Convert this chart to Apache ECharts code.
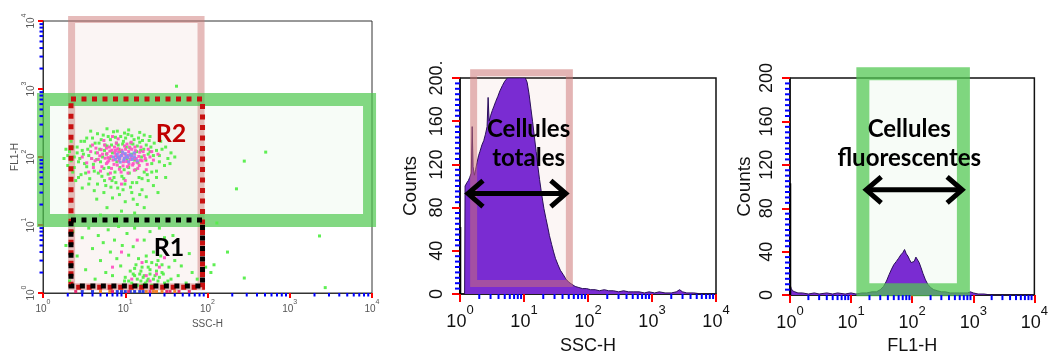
<!DOCTYPE html>
<html><head><meta charset="utf-8">
<script src="https://cdn.jsdelivr.net/npm/echarts@6/dist/echarts.min.js"></script>
<style>html,body{margin:0;padding:0;background:#fff}#c{width:1051px;height:360px}</style>
</head><body><div id="c"></div>
<script>
// ---------------- DATA ----------------
const decades = [1, 10, 100, 1000, 10000];
const countTicks = [0, 40, 80, 120, 160, 200];
const logMinorTicks = [2,3,4,5,6,7,8,9, 20,30,40,50,60,70,80,90, 200,300,400,500,600,700,800,900, 2000,3000,4000,5000,6000,7000,8000,9000];
const countMinorTicks = [5,10,15,20,25,30,35, 45,50,55,60,65,70,75, 85,90,95,100,105,110,115, 125,130,135,140,145,150,155, 165,170,175,180,185,190,195];

const dotsGreen = [
[1.8,95],[2.0,75],[2.1,120],[2.3,60],[2.4,100],[2.6,140],[2.7,85],[2.9,55],[3.1,110],[3.2,170],[3.4,72],[3.5,130],[3.7,48],[3.9,95],[4.0,190],[4.2,62],[4.4,115],[4.6,40],[4.8,160],[5.0,85],[5.2,52],[5.4,210],[5.6,125],[5.8,38],[6.0,145],[6.3,70],[6.6,180],[6.9,45],[7.2,235],[7.5,60],[7.8,160],[8.1,35],[8.4,130],[8.8,200],[9.1,52],[9.5,170],[9.9,40],[10.3,140],[10.8,215],[11.2,58],[11.7,160],[12.2,42],[12.8,180],[13.4,65],[14,145],[14.7,50],[15.4,125],[16.2,175],[17,60],[18,150],[19,45],[20,120],[21,80],[22.5,160],[24,62],[26,105],[28,130],[30,75],[33,95],[36,115],[5.5,30],[8.5,28],[12,30],[16,33],[3.0,35],[7.0,25],[10,22],[14,20],[4.5,24],[6,18],[9,16],[18,26],[22,38],[25,30],[11,250],[6,260],[15,230],[3.8,240],[2.2,170],[2.5,45],[1.9,130],[20,200],[27,170],[31,50],[13,15],[5,14],[8,13],[17,18],
[2.0,105],[2.2,88],[2.4,70],[2.6,115],[2.8,95],[3.0,125],[3.2,80],[3.3,58],[3.6,105],[3.8,145],[4.1,78],[4.3,160],[4.5,92],[4.7,58],[4.9,130],[5.1,180],[5.3,100],[5.5,68],[5.7,150],[5.9,110],[6.2,56],[6.5,95],[6.8,150],[7.0,115],[7.3,50],[7.6,195],[7.9,85],[8.2,150],[8.6,70],[8.9,120],[9.3,155],[9.7,65],[10.1,190],[10.5,95],[11,70],[11.4,135],[11.9,110],[12.4,155],[13,90],[13.7,120],[14.3,82],[15,165],[15.8,100],[16.8,130],[17.8,90],[19,110],[20.5,140],[22,105],[24,125],[26,85],[2.3,140],[3.4,190],[4.6,220],[6.2,200],[8.0,240],[9.8,225],[12,205],[14.5,190],[17,210],[19.5,175],[3.6,40],[5.6,45],[7.7,42],[9.6,48],[11.6,36],[13.8,42],[16,48],[18.5,55],[21,60],[24,50],[4.2,32],[6.7,36],[9.4,33],[12.5,24],[15,28],[2.7,50],[2.9,170],[31,140],[35,80],[40,100],
[2.3,8],[2.6,3.5],[3.0,6.5],[3.3,2.2],[3.6,9],[4.0,4.5],[4.3,1.6],[4.7,7],[5.0,3],[5.4,5.5],[5.8,2],[6.2,8.5],[6.6,4],[7.0,1.8],[7.4,6],[7.9,3.2],[8.3,9.5],[8.8,2.5],[9.2,5],[9.8,1.5],[10.5,7.5],[11,3.6],[11.5,2.1],[12,1.4],[12.5,4.8],[13,1.8],[13.5,2.6],[14,1.3],[14.5,3.2],[15,1.9],[15.5,1.5],[16,2.4],[16.5,1.7],[17,6],[17.5,1.4],[18,2.9],[19,1.6],[20,2.2],[21,1.3],[22,4],[23,1.8],[24,2.6],[25,1.5],[27,3.5],[28,2],[30,1.4],[32,5.5],[34,2.4],[36,1.6],[40,3],[44,1.8],[48,2.5],[55,1.4],[60,3.8],[65,2],[75,1.6],[85,1.3],[95,2.4],[20,8],[26,9],[30,6.5],[38,7],[13,9],[2.1,1.5],[1.9,5],
[10,1.7],[11,1.5],[12.5,1.9],[14,1.6],[15.5,2.1],[17,1.8],[18.5,1.5],[20,1.9],[22,1.6],[24,2.1],[26,1.7],[29,1.9],[33,1.5],[16,1.3],[19,2.4],[21,2.8],[25,3],[13,2.3],[18,3.5],[28,2.6],
[42,1100],[510,118],[280,87],[225,34],[2300,6.9],[2700,1.2],[280,1.66],[175,4],[130,10.7],[110,2],[120,2.6]
];
const dotsPink = [
[3.0,100],[3.4,82],[3.8,120],[4.1,70],[4.4,135],[4.7,92],[5.0,62],[5.3,110],[5.6,150],[5.9,80],[6.2,98],[6.5,122],[6.8,68],[7.1,90],[7.4,140],[7.7,105],[8.0,76],[8.3,118],[8.6,95],[8.9,60],[9.2,112],[9.5,85],[9.8,145],[10.2,100],[10.6,72],[11,120],[11.5,92],[12,130],[12.5,80],[13,110],[13.6,95],[14.2,68],[15,118],[16,88],[17,105],[18.5,78],[20,100],[22,90],[25,110],[5.5,175],[8.2,185],[11.8,165],[6.5,48],[10,45],[4.0,150],[15.5,140],[7.0,200],[9.0,40],[3.6,60],[19,130],
[4.3,88],[4.9,104],[5.1,128],[5.7,96],[6.0,112],[6.1,84],[6.4,140],[6.7,102],[6.9,126],[7.3,78],[7.5,115],[7.9,98],[8.1,132],[8.4,88],[8.8,104],[9.1,126],[9.4,74],[9.7,96],[10.1,130],[10.4,86],[10.9,106],[11.3,140],[11.8,100],[12.3,76],[12.7,96],[13.3,124],[13.9,84],[14.6,102],[15.3,90],[16.5,120],[5.2,72],[6.6,58],[8.5,66],[10.8,58],[12.9,64],[7.8,160],[10.5,155],[5.9,135],[14.8,75],[17.5,95],[4.6,115],[3.9,95],[21,120],[18,65],[6.3,88],[9.9,110],[11.1,78],[7.6,125],[13.1,140],[8.3,100],
[9,4],[16,2.8],[24,1.9],[12,1.6],[30,3.3],[20,1.5],[7,2.4],[14,6],[18,1.8],[26,2.4]
];
const dotsBlue = [
[7.2,100],[8,110],[8.5,95],[9,105],[9.6,90],[10,112],[10.8,98],[11.5,108],[12.2,92],[13,100],[14,88],[9.3,118],[8.7,84],[11,85],[12.8,115],[7.6,92],[10.4,102],[9.8,96],[12,104],[8.2,100]
];
const floorBlue = [[3,1.05],[4,1.05],[8,1.05],[9,1.05],[13,1.05],[15,1.05],[10,1.05],[11.5,1.05],[16.5,1.05]];
const floorOrange = [[5,1.05],[6.5,1.05],[18,1.05],[22,1.05],[28,1.05],[40,1.05],[24,1.05]];
const floorRed = [[2.5,1.05],[11,1.05],[35,1.05],[45,1.05],[60,1.05],[20,1.05],[7,1.05],[32,1.05]];

const sscHist = [
[1.18,0],[1.2,100],[1.28,103],[1.35,105],[1.42,108],[1.5,112],[1.55,155],[1.6,118],[1.68,110],[1.75,115],[1.85,122],[1.95,128],[2.05,132],[2.2,138],[2.35,142],[2.5,148],[2.65,155],[2.75,182],[2.85,160],[3.0,165],[3.2,170],[3.4,174],[3.6,178],[3.9,183],[4.2,188],[4.6,193],[5.0,197],[5.5,200],[6.5,200],[7.5,200],[8.5,200],[9.5,200],[10.5,200],[11.2,196],[12,185],[12.8,172],[13.6,160],[14.5,146],[15.5,132],[16.5,118],[17.5,106],[18.5,96],[19.5,87],[20.5,79],[22,70],[23.5,62],[25,54],[27,46],[29,39],[31,33],[34,27],[37,22],[41,18],[45,14],[50,11],[56,9],[63,7],[72,6],[82,5],[95,5],[110,4],[130,4],[150,3],[180,4],[210,3],[250,3],[300,2],[360,3],[430,2],[520,2],[630,2],[760,1],[900,2],[1100,1],[1300,2],[1600,1],[2000,1],[2400,2],[2700,4],[3000,2],[3500,1],[4500,1],[6000,0],[10000,0]
];
const sscFirstChannel = [[1.01,0],[1.01,62]];

const fl1Hist = [
[1,0],[1.01,9],[1.05,6],[1.1,4],[1.2,3],[1.35,2],[1.6,2],[2,1],[2.5,2],[3,1],[4,2],[5,1],[6,2],[8,1],[10,2],[12,1],[15,2],[18,2],[22,3],[26,3],[30,5],[34,8],[38,13],[42,19],[46,24],[50,28],[55,31],[60,34],[65,37],[70,39],[75,42],[80,38],[85,36],[90,33],[96,30],[102,29],[108,31],[115,35],[122,34],[130,30],[140,25],[150,20],[165,14],[180,10],[200,7],[225,5],[260,4],[300,3],[350,3],[420,2],[500,2],[600,2],[700,2],[800,2],[900,3],[1000,2],[1200,1],[1500,1],[2000,0],[10000,0]
];
const fl1FirstChannel = [[1.01,0],[1.01,103]];

const gateP1Pink = [2.02, 92, 1.1, 11800];
const gateP1Green = [0.845, 11200, 9.35, 870];
const gateR2 = [2.19, 87, 1.22, 713];
const gateR1 = [2.19, 87, 1.27, 11.8];
const gateP2Pink = [1.44, 58, 6.5, 208];
const gateP3Green = [12.2, 880, -1, 210];

const labelsP1 = [{x: 36, y: 218, text: 'R2', color: '#c00000'}, {x: 34, y: 4.6, text: 'R1', color: '#000'}];
const labelP2 = {x: 11.8, y: 139, text: 'Cellules\ntotales'};
const labelP3 = {x: 89.6, y: 139, text: 'Cellules\nfluorescentes'};
const arrowP2 = [1.24, 48.4, 93];
const arrowP3 = [16.4, 708, 97];

// ---------------- CHART ----------------
const chart = echarts.init(document.getElementById('c'));
const narrow = "'Liberation Sans',Arial,sans-serif";
const TICK = 'red';

function expLabel(v) { return '{b|10}{s|' + Math.round(Math.log10(v)) + '}'; }

function logAxis(gi, big, extra) {
  const fs = big ? 18 : 10, ss = big ? 13 : 7, lh = big ? 27 : 15;
  const col = big ? '#111' : '#555';
  return Object.assign({
    type: 'log', logBase: 10, min: 1, max: 10000, gridIndex: gi,
    splitLine: {show: false},
    axisLine: {show: true, onZero: false, lineStyle: {color: big ? '#111' : '#333', width: big ? 1.5 : 1}},
    axisTick: {show: true, length: big ? 8 : 5, lineStyle: {color: TICK, width: 2}},
    axisLabel: {
      formatter: expLabel, margin: big ? 10 : 6, color: col, fontFamily: narrow,
      rich: {b: {fontSize: fs, lineHeight: lh, verticalAlign: 'bottom', fontFamily: narrow, color: col},
             s: {fontSize: ss, lineHeight: ss, verticalAlign: 'top', fontFamily: narrow, color: col}}
    },
    nameLocation: 'middle',
    nameTextStyle: {fontFamily: narrow, fontSize: big ? 18 : 10, color: col}
  }, extra || {});
}
function countAxis(gi, extra) {
  return Object.assign({
    type: 'value', min: 0, max: 200, interval: 40, gridIndex: gi,
    splitLine: {show: false},
    axisLine: {show: true, onZero: false, lineStyle: {color: '#111', width: 1.5}},
    axisTick: {show: true, length: 8, lineStyle: {color: TICK, width: 2}},
    axisLabel: {rotate: 90, fontFamily: narrow, fontSize: 18, color: '#111', margin: 14},
    name: 'Counts', nameLocation: 'middle', nameRotate: 90,
    nameTextStyle: {fontFamily: narrow, fontSize: 19, color: '#111'}
  }, extra || {});
}

function minorTicks(xi, yi, values, onX, base, len) {
  return {
    type: 'custom', xAxisIndex: xi, yAxisIndex: yi, clip: false, z: 9, silent: true,
    data: values.map(v => (onX ? [v, base] : [base, v])),
    encode: {x: 0, y: 1},
    renderItem: function (params, api) {
      const p = api.coord([api.value(0), api.value(1)]);
      const shape = onX ? {x1: p[0], y1: p[1], x2: p[0], y2: p[1] + len}
                        : {x1: p[0] - len, y1: p[1], x2: p[0], y2: p[1]};
      return {type: 'line', shape: shape, style: {stroke: 'blue', lineWidth: 2, fill: null}};
    }
  };
}
function gateSeries(xi, yi, rect, style, z, inset) {
  return {
    type: 'custom', xAxisIndex: xi, yAxisIndex: yi, clip: false, z: z, silent: true,
    data: [rect], encode: {x: [0, 1], y: [2, 3]},
    renderItem: function (params, api) {
      const p1 = api.coord([api.value(0), api.value(3)]);
      const p2 = api.coord([api.value(1), api.value(2)]);
      let x = Math.min(p1[0], p2[0]), y = Math.min(p1[1], p2[1]);
      let w = Math.abs(p2[0] - p1[0]), h = Math.abs(p2[1] - p1[1]);
      const lw = style.lineWidth || 0;
      if (inset) { x += lw / 2; y += lw / 2; w -= lw; h -= lw; }
      return {type: 'rect', shape: {x: x, y: y, width: w, height: h}, style: Object.assign({}, style)};
    }
  };
}
function textSeries(xi, yi, items, font, z) {
  return {
    type: 'custom', xAxisIndex: xi, yAxisIndex: yi, clip: false, z: z, silent: true,
    data: items.map(d => [d.x, d.y]),
    renderItem: function (params, api) {
      const p = api.coord([api.value(0), api.value(1)]);
      const it = items[params.dataIndex];
      return {type: 'text', x: p[0], y: p[1],
        style: {text: it.text, fill: it.color || '#000', font: font, align: 'center', verticalAlign: 'middle', lineHeight: 29}};
    }
  };
}
function arrowSeries(xi, yi, arr, z) {
  return {
    type: 'custom', xAxisIndex: xi, yAxisIndex: yi, clip: false, z: z, silent: true,
    data: [arr],
    renderItem: function (params, api) {
      const a = api.coord([api.value(0), api.value(2)]);
      const b = api.coord([api.value(1), api.value(2)]);
      const hl = 17, hh = 13;
      const st = {stroke: '#000', lineWidth: 5, fill: null, lineJoin: 'miter', lineCap: 'butt'};
      return {type: 'group', children: [
        {type: 'line', shape: {x1: a[0] + 2, y1: a[1], x2: b[0] - 2, y2: b[1]}, style: st},
        {type: 'polyline', shape: {points: [[a[0] + hl, a[1] - hh], [a[0] + 2, a[1]], [a[0] + hl, a[1] + hh]]}, style: st},
        {type: 'polyline', shape: {points: [[b[0] - hl, b[1] - hh], [b[0] - 2, b[1]], [b[0] - hl, b[1] + hh]]}, style: st}
      ]};
    }
  };
}
function dots(data, color, z) {
  return {type: 'scatter', xAxisIndex: 0, yAxisIndex: 0, data: data, symbol: 'rect', symbolSize: 3,
    itemStyle: {color: color, opacity: 0.95}, z: z, silent: true, clip: false};
}

chart.setOption({
  animation: false,
  grid: [
    {left: 43, top: 21, width: 329, height: 272, show: true, borderColor: '#333', borderWidth: 1, backgroundColor: 'transparent'},
    {left: 460, top: 78, width: 256, height: 217, show: true, borderColor: '#111', borderWidth: 1.5, backgroundColor: 'transparent'},
    {left: 790, top: 78, width: 252, height: 224, show: true, borderColor: '#111', borderWidth: 1.5, backgroundColor: 'transparent'}
  ],
  xAxis: [
    logAxis(0, false, {name: 'SSC-H', nameGap: 20}),
    logAxis(1, true, {name: 'SSC-H', nameGap: 43}),
    logAxis(2, true, {name: 'FL1-H', nameGap: 40})
  ],
  yAxis: [
    logAxis(0, false, {name: 'FL1-H', nameGap: 20, nameRotate: 90,
      axisLabel: {rotate: 90, formatter: expLabel, margin: 7, color: '#555',
        rich: {b: {fontSize: 10, lineHeight: 15, verticalAlign: 'bottom', fontFamily: narrow, color: '#555'},
               s: {fontSize: 7, lineHeight: 7, verticalAlign: 'top', fontFamily: narrow, color: '#555'}}}}),
    countAxis(1, {nameGap: 40, axisLabel: {rotate: 90, fontFamily: narrow, fontSize: 18, color: '#111', margin: 14,
      formatter: v => (v === 200 ? '200.' : String(v))}}),
    countAxis(2, {nameGap: 36})
  ],
  series: [
    gateSeries(0, 0, gateP1Pink, {fill: 'rgba(215,140,130,0.09)', stroke: null}, 1, false),
    gateSeries(0, 0, gateP1Green, {fill: 'rgba(90,200,90,0.05)', stroke: null}, 1, false),
    gateSeries(0, 0, gateP1Pink, {fill: null, stroke: 'rgba(205,115,115,0.45)', lineWidth: 7}, 2, true),
    gateSeries(0, 0, gateP1Green, {fill: null, stroke: 'rgba(80,200,80,0.7)', lineWidth: 13}, 2, true),
    dots(dotsGreen, '#55ee4a', 3),
    dots(dotsPink, '#ff55c4', 4),
    dots(dotsBlue, '#8c8cf2', 5),
    dots(floorBlue, '#2233dd', 5),
    dots(floorOrange, '#f07a20', 5),
    dots(floorRed, '#e0206a', 5),
    gateSeries(0, 0, gateR2, {fill: null, stroke: '#c81010', lineWidth: 5, lineDash: [5, 5.5]}, 6, false),
    gateSeries(0, 0, gateR1, {fill: null, stroke: '#000', lineWidth: 5, lineDash: [5, 5.5]}, 7, false),
    textSeries(0, 0, labelsP1, "bold 25px Lato, 'Open Sans', sans-serif", 8),
    gateSeries(1, 1, gateP2Pink, {fill: 'rgba(215,140,130,0.08)', stroke: null}, 1, false),
    {type: 'line', xAxisIndex: 1, yAxisIndex: 1, data: sscHist, symbol: 'none', z: 2, silent: true,
      lineStyle: {color: '#2a0f5a', width: 1}, areaStyle: {color: '#7a2cd2', opacity: 1}},
    {type: 'line', xAxisIndex: 1, yAxisIndex: 1, data: sscFirstChannel, symbol: 'none', z: 3, silent: true,
      lineStyle: {color: '#000', width: 2}},
    gateSeries(1, 1, gateP2Pink, {fill: null, stroke: 'rgba(205,115,115,0.5)', lineWidth: 7}, 4, true),
    arrowSeries(1, 1, arrowP2, 6),
    textSeries(1, 1, [labelP2], "bold 24px Lato, 'Open Sans', sans-serif", 7),
    gateSeries(2, 2, gateP3Green, {fill: 'rgba(90,200,90,0.05)', stroke: null}, 1, false),
    {type: 'line', xAxisIndex: 2, yAxisIndex: 2, data: fl1Hist, symbol: 'none', z: 2, silent: true,
      lineStyle: {color: '#2a0f5a', width: 1}, areaStyle: {color: '#7a2cd2', opacity: 1}},
    {type: 'line', xAxisIndex: 2, yAxisIndex: 2, data: fl1FirstChannel, symbol: 'none', z: 3, silent: true,
      lineStyle: {color: '#000', width: 2}},
    gateSeries(2, 2, gateP3Green, {fill: null, stroke: 'rgba(80,200,80,0.72)', lineWidth: 13}, 4, true),
    arrowSeries(2, 2, arrowP3, 6),
    textSeries(2, 2, [labelP3], "bold 24px Lato, 'Open Sans', sans-serif", 7),
    minorTicks(0, 0, logMinorTicks, true, 1, 3.5),
    minorTicks(0, 0, logMinorTicks, false, 1, 3.5),
    minorTicks(1, 1, logMinorTicks, true, 0, 5),
    minorTicks(1, 1, countMinorTicks, false, 1, 5),
    minorTicks(2, 2, logMinorTicks, true, 0, 5),
    minorTicks(2, 2, countMinorTicks, false, 1, 5)
  ]
});
</script>
</body></html>
